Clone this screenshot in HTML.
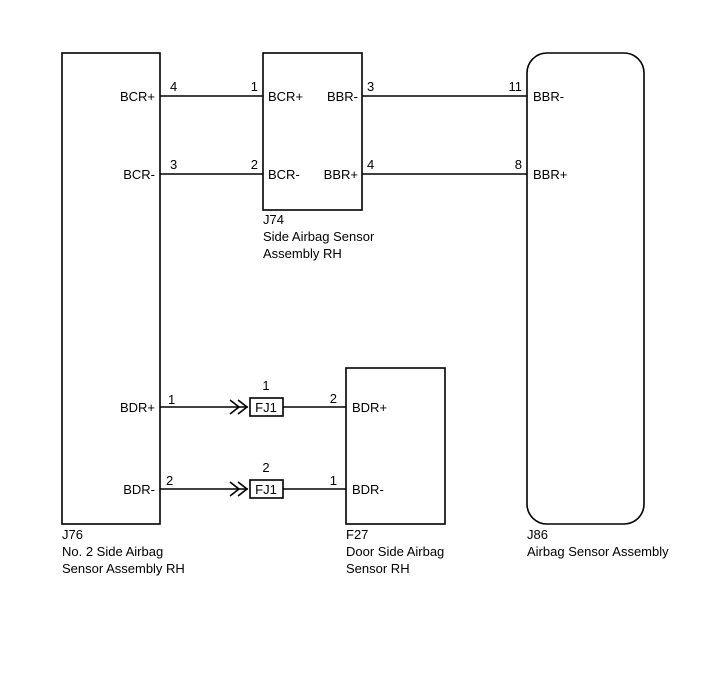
<!DOCTYPE html>
<html><head><meta charset="utf-8"><style>
html,body{margin:0;padding:0;background:#fff;}
svg{display:block;}
text{font-family:"Liberation Sans",Arial,sans-serif;font-size:13px;fill:#000;}
</style></head><body>
<svg width="713" height="681" viewBox="0 0 713 681" xmlns="http://www.w3.org/2000/svg">
<g fill="none" stroke="#000" stroke-width="1.6">
<rect x="62" y="53" width="98" height="471"/>
<rect x="263" y="53" width="99" height="157"/>
<rect x="527" y="53" width="117" height="471" rx="20" ry="20"/>
<rect x="346" y="368" width="99" height="156"/>
<line x1="160" y1="96" x2="263" y2="96"/>
<line x1="160" y1="174" x2="263" y2="174"/>
<line x1="362" y1="96" x2="527" y2="96"/>
<line x1="362" y1="174" x2="527" y2="174"/>
<line x1="160" y1="407" x2="248" y2="407"/>
<line x1="160" y1="489" x2="248" y2="489"/>
<line x1="283" y1="407" x2="346" y2="407"/>
<line x1="283" y1="489" x2="346" y2="489"/>
<polyline points="230,400 239,407 230,414"/>
<polyline points="238,400 247,407 238,414"/>
<polyline points="230,482 239,489 230,496"/>
<polyline points="238,482 247,489 238,496"/>
<rect x="250" y="398" width="33" height="18"/>
<rect x="250" y="480" width="33" height="18"/>
</g>
<text x="155" y="101" text-anchor="end">BCR+</text>
<text x="155" y="179" text-anchor="end">BCR-</text>
<text x="155" y="412" text-anchor="end">BDR+</text>
<text x="155" y="494" text-anchor="end">BDR-</text>
<text x="170" y="91">4</text>
<text x="170" y="169">3</text>
<text x="168" y="404">1</text>
<text x="166" y="485">2</text>
<text x="258" y="91" text-anchor="end">1</text>
<text x="258" y="169" text-anchor="end">2</text>
<text x="268" y="101">BCR+</text>
<text x="268" y="179">BCR-</text>
<text x="358" y="101" text-anchor="end">BBR-</text>
<text x="358" y="179" text-anchor="end">BBR+</text>
<text x="367" y="91">3</text>
<text x="367" y="169">4</text>
<text x="522" y="91" text-anchor="end">11</text>
<text x="522" y="169" text-anchor="end">8</text>
<text x="533" y="101">BBR-</text>
<text x="533" y="179">BBR+</text>
<text x="266" y="390" text-anchor="middle">1</text>
<text x="266" y="472" text-anchor="middle">2</text>
<text x="266" y="412" text-anchor="middle">FJ1</text>
<text x="266" y="494" text-anchor="middle">FJ1</text>
<text x="337" y="403" text-anchor="end">2</text>
<text x="337" y="485" text-anchor="end">1</text>
<text x="352" y="412">BDR+</text>
<text x="352" y="494">BDR-</text>
<text x="263" y="224">J74</text>
<text x="263" y="241">Side Airbag Sensor</text>
<text x="263" y="258">Assembly RH</text>
<text x="62" y="539">J76</text>
<text x="62" y="556">No. 2 Side Airbag</text>
<text x="62" y="573">Sensor Assembly RH</text>
<text x="346" y="539">F27</text>
<text x="346" y="556">Door Side Airbag</text>
<text x="346" y="573">Sensor RH</text>
<text x="527" y="539">J86</text>
<text x="527" y="556">Airbag Sensor Assembly</text>
</svg>
</body></html>
